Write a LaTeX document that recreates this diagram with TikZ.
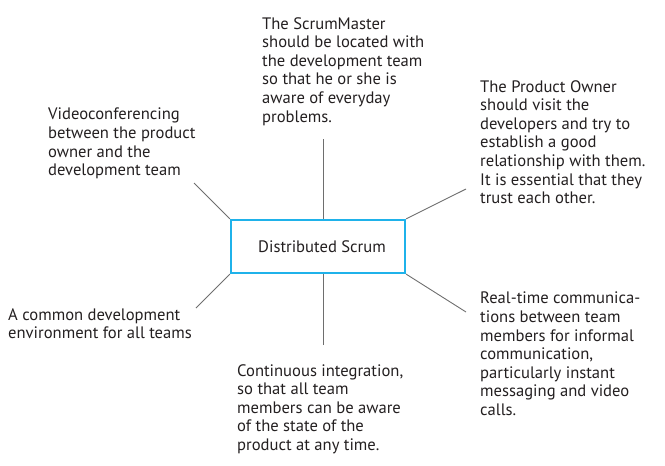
\documentclass[tikz,border=0pt]{standalone}
\usepackage{fontspec}
\setmainfont{PT Sans}
\definecolor{txt}{HTML}{231F20}
\definecolor{hubblue}{HTML}{1FB2EA}
\definecolor{linegray}{HTML}{6E6E6E}
\begin{document}
\begin{tikzpicture}[x=1pt,y=-1pt,
  note/.style={anchor=north west, inner sep=0pt, align=left,
    font=\fontsize{16.6}{18.6}\selectfont, text=txt},
  link/.style={draw=linegray, line width=0.9pt},
  hub/.style={draw=hubblue, line width=2.2pt, minimum width=174pt,
    minimum height=53pt, inner sep=0pt, text=txt,
    font=\fontsize{16.6}{18.6}\selectfont}]
\useasboundingbox (0,0) rectangle (665,466);

% central box
\node[hub] (ds) at (318,246.5) {\hspace{8pt}Distributed Scrum};

% surrounding notes
\node[note] (sm) at (262,17) {The ScrumMaster\\should be located with\\the development team\\so that he or she is\\aware of everyday\\problems.};
\node[note] (vc) at (48,108) {Videoconferencing\\between the product\\owner and the\\development team};
\node[note] (po) at (480,80) {The Product Owner\\should visit the\\developers and try to\\establish a good\\relationship with them.\\It is essential that they\\trust each other.};
\node[note] (ce) at (8,308) {A common development\\environment for all teams};
\node[note] (ci) at (237,364) {Continuous integration,\\so that all team\\members can be aware\\of the state of the\\product at any time.};
\node[note] (rt) at (480,292) {Real-time communica-\\tions between team\\members for informal\\communication,\\particularly instant\\messaging and video\\calls.};

% free ends of the spokes
\coordinate (e-sm) at (323,139);
\coordinate (e-vc) at (194,183);
\coordinate (e-po) at (466,189);
\coordinate (e-ce) at (196,308);
\coordinate (e-ci) at (323,345);
\coordinate (e-rt) at (466,312);

% spokes
\draw[link] (e-sm) -- (e-sm |- ds.north);
\draw[link] (e-ci) -- (e-ci |- ds.south);
\draw[link] (ds.north west) -- (e-vc);
\draw[link] (ds.north east) -- (e-po);
\draw[link] (ds.south west) -- (e-ce);
\draw[link] (ds.south east) -- (e-rt);
\end{tikzpicture}
\end{document}
